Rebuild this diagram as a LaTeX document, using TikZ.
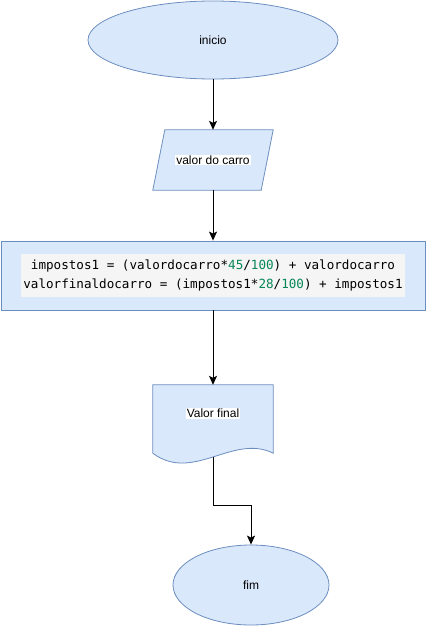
\documentclass[tikz,border=0pt]{standalone}
\usepackage{fontspec}
\setmainfont{Liberation Sans}
\setmonofont{DejaVu Sans Mono}
\usetikzlibrary{shapes.geometric,positioning,arrows.meta,backgrounds}
\definecolor{boxfill}{RGB}{218,232,252}
\definecolor{boxline}{RGB}{108,142,191}
\definecolor{codebg}{RGB}{245,245,245}
\definecolor{numgreen}{RGB}{9,134,88}
\newcommand{\nr}[1]{\textcolor{numgreen}{#1}}
\newcommand{\lbl}[1]{{\setlength{\fboxsep}{1pt}\colorbox{white}{#1}}}

\begin{document}
\begin{tikzpicture}[>={Stealth[length=9pt,width=8pt,inset=2pt]},node distance=120pt,on grid,
  font=\fontsize{12}{14}\selectfont,
  blk/.style={draw=boxline,fill=boxfill,line width=0.8pt,inner sep=0pt},
  term/.style={blk,ellipse},
  io/.style={rectangle,minimum width=120pt,minimum height=60pt},
  proc/.style={blk,rectangle,minimum width=424pt,minimum height=69pt},
  doc/.style={rectangle,minimum width=120pt,minimum height=80pt,text height=9pt,text depth=24pt},
  flow/.style={->,line width=1pt}]
   \useasboundingbox (0,0) rectangle (426pt,-626pt);
   \node[term,minimum width=250pt,minimum height=78pt] (inicio) at (213pt,-40pt) {inicio};
   \node[io] (valor) [below=of inicio] {\lbl{valor do carro}};
   \node[proc] (calc) [below=115.5pt of valor] {\setlength{\fboxsep}{2.5pt}\colorbox{codebg}{%
     \ttfamily\fontsize{12.6}{19}\selectfont\begin{tabular}{@{}c@{}}
     impostos1 = (valordocarro*\nr{45}/\nr{100}) + valordocarro\\
     valorfinaldocarro = (impostos1*\nr{28}/\nr{100}) + impostos1
     \end{tabular}}};
   \node[doc] (final) [below=149.5pt of calc] {\lbl{Valor final}};
   \node[term,minimum width=156pt,minimum height=80pt] (fim) [below right=160pt and 38pt of final] {fim};
   % slanted input box and wavy document box
   \begin{scope}[on background layer]
     \filldraw[blk] (valor.south west) -- ([xshift=-12pt]valor.south east) -- (valor.north east)
       -- ([xshift=12pt]valor.north west) -- cycle;
     \filldraw[blk] (final.north west) -- (final.north east) -- ([yshift=12pt]final.south east)
       .. controls ([shift={(-40pt,32pt)}]final.south east) and ([shift={(40pt,-18pt)}]final.south west)
       .. ([yshift=12pt]final.south west) -- cycle;
   \end{scope}
   \coordinate (out) at ([yshift=8pt]final.south);
   \draw[flow] (inicio) -- (valor);
   \draw[flow] (valor) -- (calc);
   \draw[flow] (calc) -- (final);
   \draw[flow] (out) -- ++(0,-48pt) -| (fim.north);
\end{tikzpicture}
\end{document}
